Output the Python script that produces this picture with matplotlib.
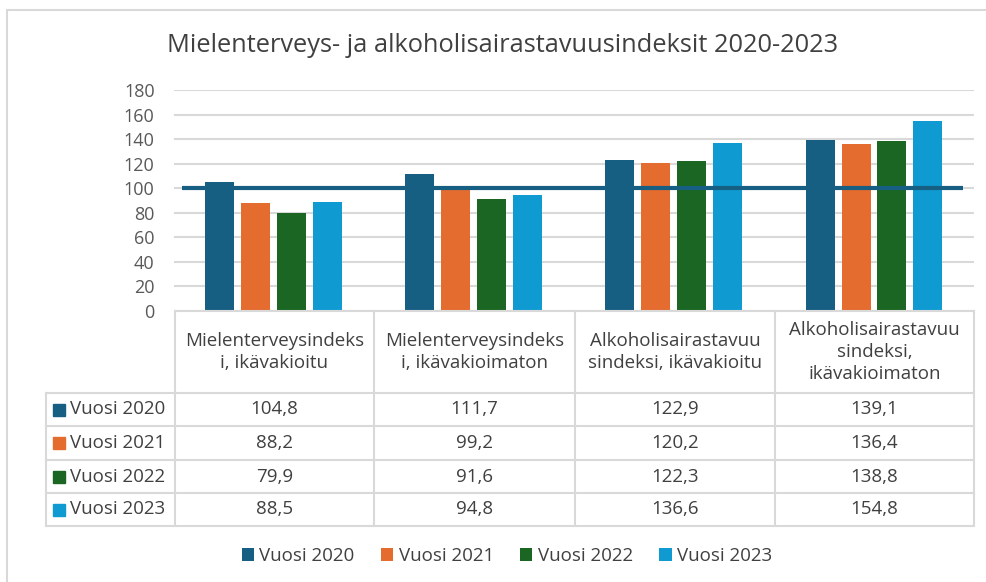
import matplotlib.pyplot as plt
from matplotlib.patches import Rectangle

categories = ["Mielenterveysindeks\ni, ikävakioitu",
              "Mielenterveysindeks\ni, ikävakioimaton",
              "Alkoholisairastavuu\nsindeksi, ikävakioitu",
              "Alkoholisairastavuu\nsindeksi,\nikävakioimaton"]
series = ["Vuosi 2020", "Vuosi 2021", "Vuosi 2022", "Vuosi 2023"]
v2020 = [104.8, 111.7, 122.9, 139.1]
v2021 = [88.2, 99.2, 120.2, 136.4]
v2022 = [79.9, 91.6, 122.3, 138.8]
v2023 = [88.5, 94.8, 136.6, 154.8]
reference = 100
yticks = [0, 20, 40, 60, 80, 100, 120, 140, 160, 180]

colors = ["#175e83", "#e46c2f", "#1b6622", "#109ad2"]
grid_c = "#d9d9d9"
txt_c = "#404040"

plt.rcParams['font.family'] = ['Open Sans', 'DejaVu Sans']

W, H = 987, 582
fig = plt.figure(figsize=(W / 100, H / 100), dpi=100)


def fx(px):
    return px / W


def fy(py):
    return 1 - py / H


# outer chart frame
fig.add_artist(Rectangle((fx(7), fy(590)), fx(990) - fx(7), fy(10) - fy(590),
                         transform=fig.transFigure, fill=False, edgecolor=grid_c, lw=1.5))

ax = fig.add_axes([fx(174), fy(311), fx(974) - fx(174), fy(90) - fy(311)])
values = [v2020, v2021, v2022, v2023]
step, width = 0.18, 0.145
bars = []
for i, (vals, c) in enumerate(zip(values, colors)):
    xs = [k + (i - 1.5) * step for k in range(len(categories))]
    bars.append(ax.bar(xs, vals, width=width, color=c, zorder=3))

ax.hlines(reference, -0.46, 3.445, color="#175e83", lw=3, zorder=4)

ax.set_xlim(-0.5, len(categories) - 0.5)
ax.set_ylim(0, 180)
ax.set_yticks(yticks)
ax.set_xticks([])
ax.tick_params(axis='y', length=0, pad=14, labelsize=13, labelcolor="#595959")
ax.grid(axis='y', color=grid_c, lw=1.5, zorder=0)
for s in ax.spines.values():
    s.set_visible(False)

fig.text(fx(503), fy(46), "Mielenterveys- ja alkoholisairastavuusindeksit 2020-2023",
         ha='center', va='center', fontsize=18.3, color=txt_c)

# data table drawn in pixel coordinates
ov = fig.add_axes([0, 0, 1, 1])
ov.set_xlim(0, W)
ov.set_ylim(H, 0)
ov.axis('off')

col_x = [175, 374, 575, 775, 974]
row_y = [393, 426, 460, 493, 526]
ov.plot([175, 974], [311, 311], color=grid_c, lw=1.5)
for y in row_y:
    ov.plot([46, 974], [y, y], color=grid_c, lw=1.5)
ov.plot([46, 46], [393, 526], color=grid_c, lw=1.5)
for x in col_x:
    ov.plot([x, x], [311, 526], color=grid_c, lw=1.5)

for j, cat in enumerate(categories):
    cx = (col_x[j] + col_x[j + 1]) / 2
    ov.text(cx, 352, cat, ha='center', va='center', fontsize=13.5,
            color=txt_c, linespacing=1.32)
    for i, vals in enumerate(values):
        cy = (row_y[i] + row_y[i + 1]) / 2
        ov.text(cx, cy, f"{vals[j]:.1f}".replace(".", ","), ha='center', va='center',
                fontsize=13.5, color=txt_c)

for i, (name, c) in enumerate(zip(series, colors)):
    cy = (row_y[i] + row_y[i + 1]) / 2
    ov.add_patch(Rectangle((53, cy - 6), 12, 12, color=c))
    ov.text(70, cy, name, ha='left', va='center', fontsize=13.5, color=txt_c)

fig.legend([b[0] for b in bars], series, loc='center',
           bbox_to_anchor=(fx(507), fy(556)), ncol=4, frameon=False,
           handlelength=0.65, handleheight=0.65, handletextpad=0.3,
           columnspacing=1.4, fontsize=13.5, labelcolor=txt_c)

plt.savefig("out.png", dpi=100)
